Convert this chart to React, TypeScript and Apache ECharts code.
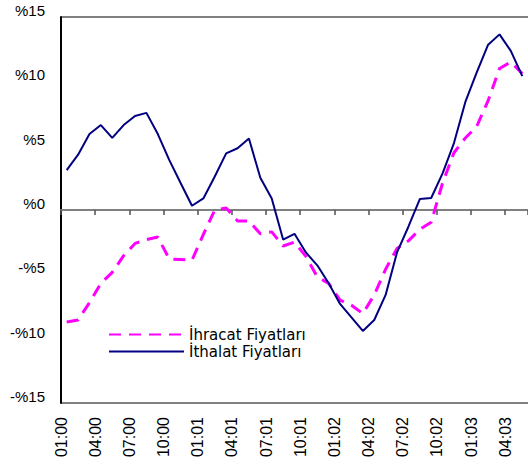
import React, { useEffect, useRef } from "react";
import * as echarts from "echarts";

const categories = [
  "01:00","02:00","03:00","04:00","05:00","06:00","07:00","08:00","09:00","10:00","11:00","12:00",
  "01:01","02:01","03:01","04:01","05:01","06:01","07:01","08:01","09:01","10:01","11:01","12:01",
  "01:02","02:02","03:02","04:02","05:02","06:02","07:02","08:02","09:02","10:02","11:02","12:02",
  "01:03","02:03","03:03","04:03","05:03",
];

const ihracat = [
  -8.7, -8.55, -7.2, -5.7, -4.85, -3.55, -2.6, -2.3, -2.1, -3.8, -3.85, -3.9,
  -1.9, 0.0, 0.15, -0.85, -0.85, -1.85, -1.7, -2.8, -2.5, -3.6, -5.2, -5.7,
  -7.0, -7.4, -8.05, -6.6, -4.6, -3.0, -2.4, -1.5, -0.95, 2.1, 4.45, 5.6,
  6.5, 8.5, 11.0, 11.5, 10.6,
];

const ithalat = [
  3.1, 4.3, 5.9, 6.6, 5.6, 6.6, 7.3, 7.55, 5.9, 3.9, 2.1, 0.33,
  0.9, 2.6, 4.4, 4.8, 5.55, 2.5, 0.9, -2.3, -1.85, -3.3, -4.3, -5.7,
  -7.3, -8.35, -9.4, -8.55, -6.6, -3.3, -1.3, 0.85, 0.93, 2.85, 5.2, 8.4,
  10.7, 12.85, 13.65, 12.35, 10.4,
];

const seriesNames = ["İhracat Fiyatları", "İthalat Fiyatları"];

export default function App() {
  const ref = useRef<HTMLDivElement>(null);
  useEffect(() => {
    document.body.style.margin = "0";
    const chart = echarts.init(ref.current!, undefined, { renderer: "svg" });
    const labelCats = [...categories, ""];
    chart.setOption({
      animation: false,
      backgroundColor: "#ffffff",
      grid: { left: 61, top: 17, bottom: 71, right: -3, containLabel: false },
      legend: {
        orient: "vertical",
        left: 108,
        top: 327,
        itemWidth: 75,
        itemHeight: 14,
        itemGap: 2,
        padding: 0,
        itemStyle: { opacity: 0 },
        textStyle: { fontFamily: "DejaVu Sans", fontSize: 15, color: "#000", lineHeight: 15 },
        data: seriesNames,
      },
      xAxis: [
        {
          type: "category",
          data: categories,
          position: "top",
          boundaryGap: true,
          axisLine: { show: true, onZero: true, lineStyle: { color: "#808080", width: 2 } },
          axisTick: {
            show: true,
            inside: true,
            length: 5,
            interval: (i: number) => i % 3 === 0,
            lineStyle: { color: "#505050", width: 1.5 },
          },
          axisLabel: { show: false },
          splitLine: { show: false },
        },
        {
          type: "category",
          data: labelCats,
          position: "bottom",
          boundaryGap: false,
          axisLine: { show: false, onZero: false },
          axisTick: { show: false },
          splitLine: { show: false },
          axisLabel: {
            show: true,
            rotate: 90,
            margin: 14,
            interval: (i: number) => i % 3 === 0 && i < categories.length,
            fontFamily: "Liberation Sans",
            fontSize: 16,
            color: "#000",
          },
        },
      ],
      yAxis: {
        type: "value",
        min: -15,
        max: 15,
        interval: 5,
        axisLine: { show: true, onZero: false, lineStyle: { color: "#000", width: 2 } },
        axisTick: { show: false },
        axisLabel: {
          margin: 16,
          fontFamily: "Liberation Sans",
          fontSize: 15,
          color: "#000",
          verticalAlign: "bottom",
          lineHeight: 13,
          formatter: (v: number) => (v < 0 ? "-%" + -v : "%" + v),
        },
        splitLine: {
          show: true,
          lineStyle: {
            color: ["#808080", "rgba(0,0,0,0)", "rgba(0,0,0,0)", "rgba(0,0,0,0)", "rgba(0,0,0,0)", "rgba(0,0,0,0)", "#808080"],
            width: 2,
          },
        },
      },
      series: [
        {
          name: seriesNames[0],
          type: "line",
          xAxisIndex: 0,
          data: ihracat,
          symbol: "none",
          lineStyle: { color: "#FF00FF", width: 3, type: [12, 8] },
          itemStyle: { color: "#FF00FF" },
        },
        {
          name: seriesNames[1],
          type: "line",
          xAxisIndex: 0,
          data: ithalat,
          symbol: "none",
          lineStyle: { color: "#000080", width: 2, type: "solid" },
          itemStyle: { color: "#000080" },
        },
      ],
    });
    return () => chart.dispose();
  }, []);
  return <div ref={ref} style={{ width: 528, height: 474 }} />;
}
